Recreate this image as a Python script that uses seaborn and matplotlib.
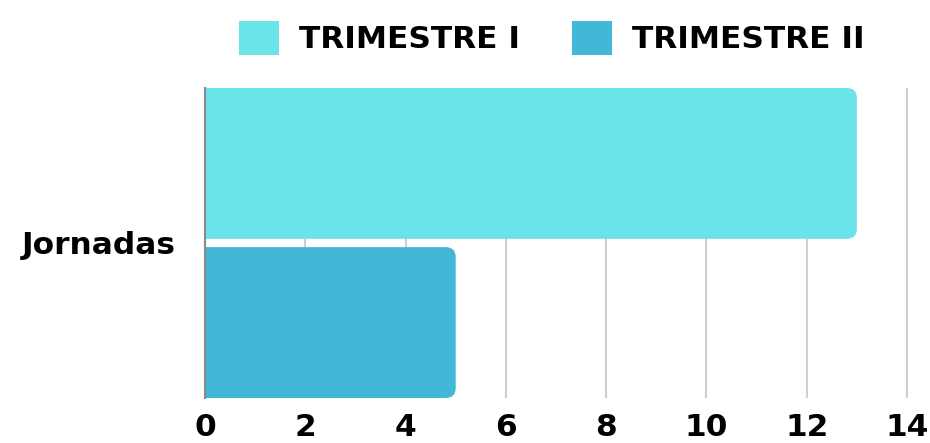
import pandas as pd
import matplotlib
matplotlib.use("Agg")
import matplotlib.pyplot as plt
import matplotlib.patches as mpatches
from matplotlib.patches import FancyBboxPatch
import seaborn as sns

# Data
categories = ["Jornadas"]
series = ["TRIMESTRE I", "TRIMESTRE II"]
trimestre_1 = [13]
trimestre_2 = [5]
x_ticks = [0, 2, 4, 6, 8, 10, 12, 14]
colors = ["#6AE4E9", "#42B7D6"]

df = pd.DataFrame({
    "categoria": categories * 2,
    "serie": [series[0]] * len(categories) + [series[1]] * len(categories),
    "valor": trimestre_1 + trimestre_2,
})

sns.set_style("white")
plt.rcParams["font.family"] = ["DejaVu Sans"]
plt.rcParams["font.weight"] = "bold"
plt.rcParams["text.color"] = "black"
plt.rcParams["xtick.color"] = "black"
plt.rcParams["ytick.color"] = "black"

fig = plt.figure(figsize=(9.3, 4.43), dpi=100)
ax = fig.add_axes([205 / 930, 1 - 398 / 443, 703 / 930, 310 / 443])

sns.barplot(
    data=df, x="valor", y="categoria", hue="serie", hue_order=series,
    palette=colors, saturation=1, orient="h", width=1.0, gap=0.052,
    legend=False, ax=ax,
)

# fit y limits to the bars
bars = list(ax.patches)
ymin = min(p.get_y() for p in bars)
ymax = max(p.get_y() + p.get_height() for p in bars)
ax.set_ylim(ymax, ymin)
ax.set_xlim(0, 14.02)

# swap the plain bars for ones with rounded right ends
px_x = 703 / 14.02
px_y = 310 / (ymax - ymin)
radius_px = 10
rx = radius_px / px_x
aspect = (radius_px / px_y) / rx
for p in bars:
    x, y, w, h = p.get_x(), p.get_y(), p.get_width(), p.get_height()
    fb = FancyBboxPatch(
        (x - 1, y), w + 1, h,
        boxstyle=f"round,pad=0,rounding_size={rx}",
        mutation_aspect=aspect,
        facecolor=p.get_facecolor(), edgecolor="none", zorder=2,
    )
    ax.add_patch(fb)
    p.remove()

ax.set_xticks(x_ticks)
ax.set_xticklabels([str(t) for t in x_ticks])
ax.set_xlabel("")
ax.set_ylabel("")
ax.tick_params(axis="x", length=0, pad=11, labelsize=22.5, labelcolor="black")
ax.tick_params(axis="y", length=0, pad=21, labelsize=22.5, labelcolor="black")
for lbl in ax.get_xticklabels() + ax.get_yticklabels():
    lbl.set_fontweight("bold")

ax.xaxis.grid(True, color="#d0d0d0", linewidth=1.5)
ax.yaxis.grid(False)
ax.set_axisbelow(True)
for side in ["top", "right", "bottom"]:
    ax.spines[side].set_visible(False)
ax.spines["left"].set_color("#8a8a8a")
ax.spines["left"].set_linewidth(1.5)
ax.spines["left"].set_zorder(3)

handles = [mpatches.Patch(facecolor=c, edgecolor="none") for c in colors]
fig.legend(
    handles, series, loc="center", bbox_to_anchor=(0.593, 0.915), ncol=2,
    frameon=False, prop={"weight": "bold", "size": 22.5},
    handlelength=1.28, handleheight=1.31, handletextpad=0.64,
    columnspacing=1.66, borderpad=0, labelcolor="black",
)

fig.savefig("out.png", dpi=100)
